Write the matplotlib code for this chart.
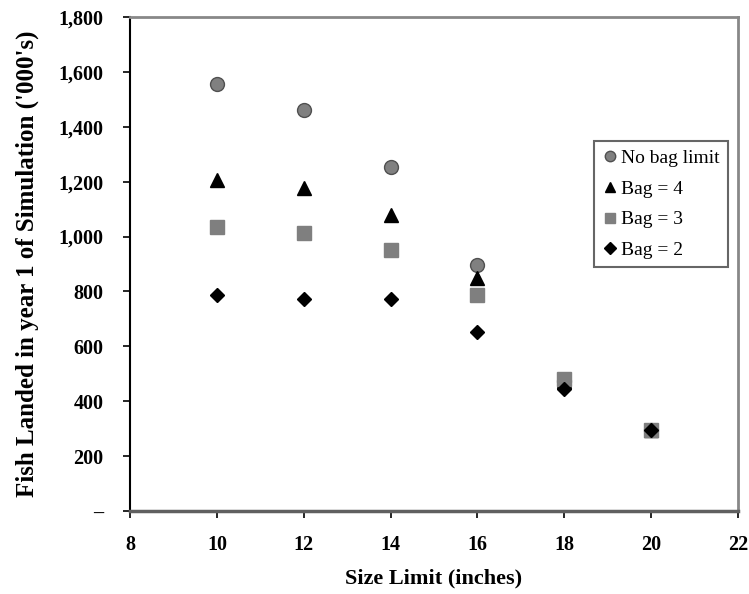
import matplotlib.pyplot as plt
from matplotlib.ticker import FuncFormatter

# size limits (inches)
size_limit = [10, 12, 14, 16, 18, 20]

# fish landed in year 1 ('000s)
no_bag = [1555, 1461, 1253, 898, 475, 297]
bag_4 = [1206, 1178, 1080, 850, 475, 297]
bag_3 = [1035, 1013, 951, 787, 480, 297]
bag_2 = [787, 773, 773, 653, 445, 297]

plt.rcParams['font.family'] = ['Liberation Serif', 'DejaVu Serif']

fig = plt.figure(figsize=(7.49, 5.94), dpi=100)
ax = fig.add_axes([0.1736, 0.1397, 0.8117, 0.8317])

ax.plot(size_limit, no_bag, 'o', color='#808080', mec='#505050', ms=10, label='No bag limit')
ax.plot(size_limit, bag_4, '^', color='black', ms=9.5, label='Bag = 4')
ax.plot(size_limit, bag_3, 's', color='#7f7f7f', ms=9.5, label='Bag = 3')
ax.plot(size_limit, bag_2, 'D', color='black', ms=7.5, label='Bag = 2')

ax.set_xlim(8, 22)
ax.set_ylim(0, 1800)
ax.set_xticks(range(8, 23, 2))
ax.set_yticks(range(0, 1801, 200))
ax.yaxis.set_major_formatter(FuncFormatter(lambda v, p: '\u2013' if v == 0 else f'{int(v):,}'))

for lbl in ax.get_xticklabels() + ax.get_yticklabels():
    lbl.set_fontweight('bold')
    lbl.set_fontsize(14.5)
ax.tick_params(axis='both', direction='out', length=5, width=1.2, color='black')
ax.tick_params(axis='x', pad=12)
ax.tick_params(axis='y', pad=14)

ax.spines['left'].set_color('black')
ax.spines['left'].set_linewidth(1.5)
ax.spines['bottom'].set_color('#606060')
ax.spines['bottom'].set_linewidth(2.5)
ax.spines['top'].set_color('#888888')
ax.spines['top'].set_linewidth(2)
ax.spines['right'].set_color('#888888')
ax.spines['right'].set_linewidth(2)

ax.set_xlabel('Size Limit (inches)', fontsize=16, fontweight='bold', labelpad=10)
ax.set_ylabel("Fish Landed in year 1 of Simulation ('000's)", fontsize=18, fontweight='bold', labelpad=14)

leg = ax.legend(loc='lower left', bbox_to_anchor=(0.763, 0.494), borderaxespad=0, frameon=True,
                fancybox=False, edgecolor='#404040', fontsize=14, handletextpad=0.1,
                borderpad=0.4, labelspacing=0.68, handlelength=0.9, markerscale=0.75)
leg.get_frame().set_linewidth(1.5)

plt.savefig('out.png', dpi=100)
